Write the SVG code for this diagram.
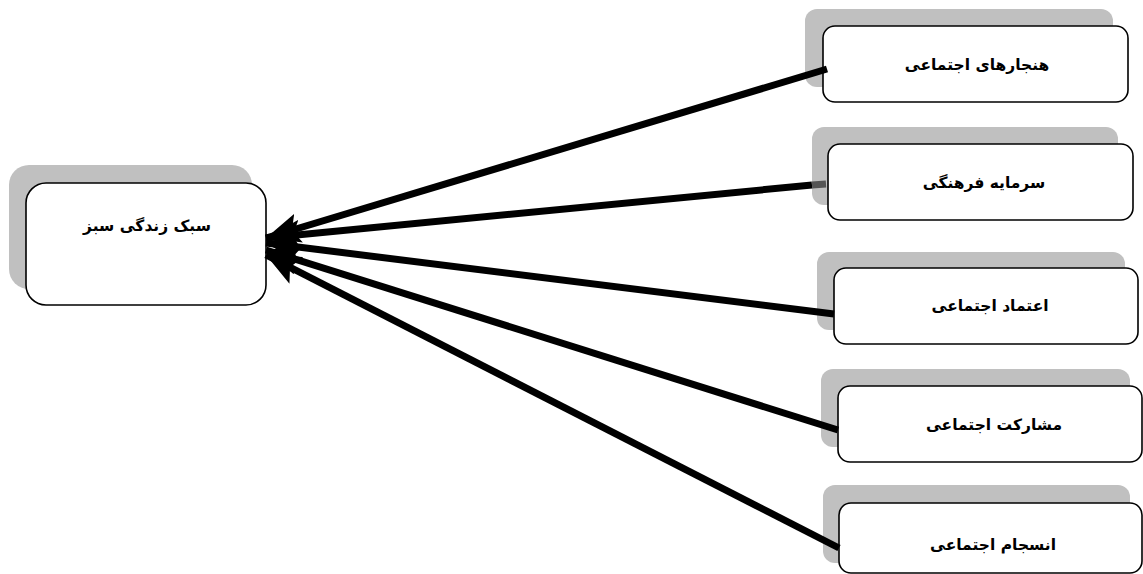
<svg xmlns="http://www.w3.org/2000/svg" width="1143" height="574" viewBox="0 0 1143 574">
<defs>
<marker id="ah" markerUnits="userSpaceOnUse" markerWidth="36" markerHeight="30" refX="34" refY="15" orient="auto">
<path d="M0,0 L34,15 L0,30 L7,15 Z" fill="#000"/>
</marker>
<style>
.sh{fill:#c0c0c0;}
.bx{fill:#fff;stroke:#000;stroke-width:1.6;}
.t{font-family:"DejaVu Sans",sans-serif;font-weight:bold;font-size:15.5px;fill:#000;text-anchor:middle;direction:rtl;}
.ln{stroke:#000;stroke-width:7;fill:none;marker-end:url(#ah);}
</style>
</defs>
<rect width="1143" height="574" fill="#fff"/>
<g id="node-green-lifestyle">
<rect class="sh" x="9" y="165" width="243" height="124" rx="20"/>
<rect class="bx" x="26" y="183" width="240" height="122" rx="20"/>
<text class="t" x="147" y="231">سبک زندگی سبز</text>
</g>
<g id="node-norms">
<rect class="sh" x="805" y="9" width="308" height="78" rx="12"/>
<rect class="bx" x="823" y="26" width="305" height="76" rx="12"/>
<text class="t" x="977" y="70">هنجارهای اجتماعی</text>
</g>
<g id="node-capital">
<rect class="sh" x="812" y="127" width="306" height="78" rx="12"/>
<rect class="bx" x="828" y="144" width="305" height="76" rx="12"/>
<text class="t" x="984" y="188">سرمایه فرهنگی</text>
</g>
<g id="node-trust">
<rect class="sh" x="817" y="252" width="308" height="78" rx="12"/>
<rect class="bx" x="834" y="268" width="304" height="76" rx="12"/>
<text class="t" x="990" y="311">اعتماد اجتماعی</text>
</g>
<g id="node-participation">
<rect class="sh" x="821" y="369" width="309" height="78" rx="12"/>
<rect class="bx" x="838" y="386" width="304" height="76" rx="12"/>
<text class="t" x="994" y="430">مشارکت اجتماعی</text>
</g>
<g id="node-cohesion">
<rect class="sh" x="823" y="485" width="307" height="78" rx="12"/>
<rect class="bx" x="839" y="503" width="303" height="70" rx="12"/>
<text class="t" x="993" y="550">انسجام اجتماعی</text>
</g>
<g id="connectors">
<line class="ln" x1="827" y1="69" x2="266" y2="238"/>
<line class="ln" x1="812" y1="185" x2="266" y2="238"/>
<line x1="826" y1="184" x2="812" y2="185" stroke="#555" stroke-width="7"/>
<line class="ln" x1="834" y1="314" x2="266" y2="243"/>
<line class="ln" x1="838" y1="430" x2="266" y2="250"/>
<line class="ln" x1="839" y1="548" x2="266" y2="255"/>
</g>
</svg>
